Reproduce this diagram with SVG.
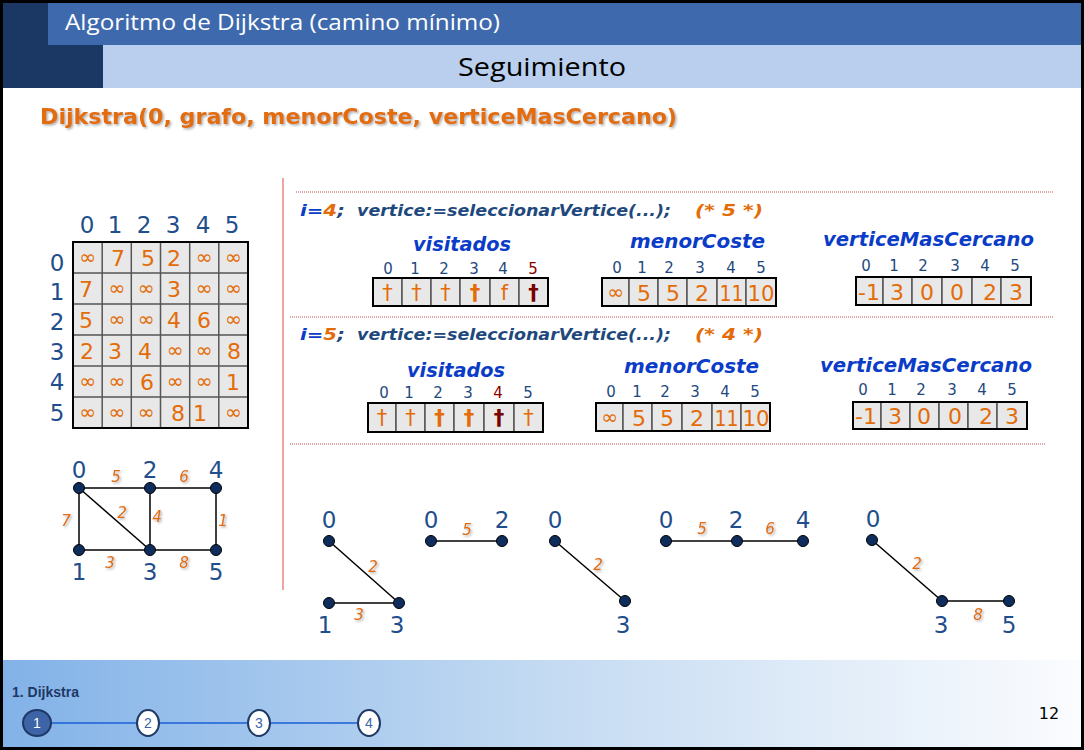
<svg xmlns="http://www.w3.org/2000/svg" width="1084" height="750" viewBox="0 0 1084 750">
<defs>
<style>
.sans{font-family:"Liberation Sans",Arial,sans-serif}
.idx{font-family:"DejaVu Sans",Verdana,sans-serif;font-size:15px;fill:#1f497d;text-anchor:middle}
.val{font-family:"DejaVu Sans",Verdana,sans-serif;font-size:22px;fill:#e36c09;text-anchor:middle}
.inf{font-family:"DejaVu Sans",Verdana,sans-serif;font-size:20px;fill:#e36c09;text-anchor:middle}
.dag{font-family:"DejaVu Sans",Verdana,sans-serif;font-size:21px;fill:#e36c09;text-anchor:middle}
.bold{font-weight:bold}
.red{fill:#7a0000}
.cell{fill:#e8e8e8;stroke:#555;stroke-width:1.5}
.frame{fill:none;stroke:#000;stroke-width:2}
.lbl{font-family:"DejaVu Sans",Verdana,sans-serif;font-size:20px;font-weight:bold;font-style:italic;fill:#0a3cc8;text-anchor:middle}
.code{font-family:"DejaVu Sans",Verdana,sans-serif;font-size:16px;font-weight:bold;font-style:italic}
.nl{font-family:"DejaVu Sans",Verdana,sans-serif;font-size:23px;fill:#1f4e8c;text-anchor:middle}
.w{font-family:"DejaVu Sans",Verdana,sans-serif;font-size:15px;font-style:italic;fill:#e36c09;text-anchor:middle}
.nd{fill:#0e2d5c;stroke:#000;stroke-width:1}
.ed{stroke:#000;stroke-width:1.5;fill:none}
.dot{stroke:#c0504d;stroke-width:1;stroke-dasharray:1 1;fill:none}
</style>
<linearGradient id="foot" x1="0" y1="0" x2="1" y2="0">
<stop offset="0" stop-color="#82b2e8"/>
<stop offset="0.5" stop-color="#c3daf2"/>
<stop offset="1" stop-color="#fbfcfe"/>
</linearGradient>
<filter id="shadow" x="-5%" y="-20%" width="110%" height="150%">
<feDropShadow dx="1.5" dy="1.5" stdDeviation="1" flood-color="#777" flood-opacity="0.6"/>
</filter>
</defs>

<!-- slide frame and header -->
<rect x="0" y="0" width="1084" height="750" fill="#000"/>
<rect x="3" y="3" width="1078" height="744" fill="#fff"/>
<rect x="3" y="3" width="100" height="85" fill="#1b3764"/>
<rect x="48" y="3" width="1033" height="42" fill="#3e6aad"/>
<rect x="103" y="45" width="978" height="43" fill="#b9cfed"/>
<text x="65" y="30" font-family="Open Sans, Liberation Sans, sans-serif" font-size="22" fill="#fff" textLength="435" lengthAdjust="spacingAndGlyphs">Algoritmo de Dijkstra (camino mínimo)</text>
<text x="458" y="76" font-family="Open Sans, Liberation Sans, sans-serif" font-size="25" fill="#000" textLength="168" lengthAdjust="spacingAndGlyphs">Seguimiento</text>
<text x="40" y="124" font-family="DejaVu Sans, Verdana, sans-serif" font-size="21" font-weight="bold" fill="#e36c09" filter="url(#shadow)" textLength="637" lengthAdjust="spacingAndGlyphs">Dijkstra(0, grafo, menorCoste, verticeMasCercano)</text>

<!-- separators -->
<line x1="283" y1="178" x2="283" y2="590" stroke="#e06666" stroke-width="1.2"/>
<line class="dot" x1="296" y1="192" x2="1053" y2="192"/>
<line class="dot" x1="290" y1="317" x2="1053" y2="317"/>
<line class="dot" x1="290" y1="444" x2="1045" y2="444"/>

<!-- adjacency matrix -->
<g id="matrix">
<g class="nl">
<text x="87" y="233">0</text><text x="115" y="233">1</text><text x="144" y="233">2</text><text x="173" y="233">3</text><text x="203" y="233">4</text><text x="232" y="233">5</text>
<text x="57" y="271">0</text><text x="57" y="300">1</text><text x="57" y="330">2</text><text x="57" y="360">3</text><text x="57" y="390">4</text><text x="57" y="421">5</text>
</g>
<rect x="73" y="242" width="175" height="186" fill="#e8e8e8"/>
<g stroke="#555" stroke-width="1.5">
<line x1="102.2" y1="242" x2="102.2" y2="428"/><line x1="131.3" y1="242" x2="131.3" y2="428"/><line x1="160.5" y1="242" x2="160.5" y2="428"/><line x1="189.7" y1="242" x2="189.7" y2="428"/><line x1="218.8" y1="242" x2="218.8" y2="428"/>
<line x1="73" y1="273" x2="248" y2="273"/><line x1="73" y1="304" x2="248" y2="304"/><line x1="73" y1="335" x2="248" y2="335"/><line x1="73" y1="366" x2="248" y2="366"/><line x1="73" y1="397" x2="248" y2="397"/>
</g>
<rect class="frame" x="73" y="242" width="175" height="186"/>
<g class="inf">
<text x="87.6" y="264">∞</text><text x="204" y="264">∞</text><text x="233.4" y="264">∞</text>
<text x="116.8" y="295">∞</text><text x="146" y="295">∞</text><text x="204" y="295">∞</text><text x="233.4" y="295">∞</text>
<text x="116.8" y="326">∞</text><text x="146" y="326">∞</text><text x="233.4" y="326">∞</text>
<text x="175" y="357">∞</text><text x="204" y="357">∞</text>
<text x="87.6" y="388">∞</text><text x="116.8" y="388">∞</text><text x="175" y="388">∞</text><text x="204" y="388">∞</text>
<text x="87.6" y="419">∞</text><text x="116.8" y="419">∞</text><text x="146" y="419">∞</text><text x="233.4" y="419">∞</text>
</g>
<g class="val">
<text x="118" y="266">7</text><text x="148" y="266">5</text><text x="174" y="266">2</text>
<text x="86" y="297">7</text><text x="174" y="297">3</text>
<text x="86" y="328">5</text><text x="174" y="328">4</text><text x="204" y="328">6</text>
<text x="87" y="359">2</text><text x="115" y="359">3</text><text x="145" y="359">4</text><text x="234" y="359">8</text>
<text x="147" y="390">6</text><text x="233" y="390">1</text>
<text x="178" y="421">8</text><text x="200" y="421">1</text>
</g>
</g>

<!-- full graph: edges and weights -->
<g id="connectors">
<line class="ed" x1="79" y1="488" x2="150" y2="488"/>
<line class="ed" x1="150" y1="488" x2="216" y2="488" stroke="#444"/>
<line class="ed" x1="79" y1="488" x2="79" y2="550"/>
<line class="ed" x1="79" y1="488" x2="150" y2="550"/>
<line class="ed" x1="150" y1="488" x2="150" y2="550"/>
<line class="ed" x1="216" y1="488" x2="216" y2="550"/>
<line class="ed" x1="79" y1="550" x2="150" y2="550"/>
<line class="ed" x1="150" y1="550" x2="216" y2="550"/>
<!-- partial trees -->
<line class="ed" x1="329" y1="541" x2="399" y2="603"/>
<line class="ed" x1="329" y1="603" x2="399" y2="603"/>
<line class="ed" x1="431" y1="541" x2="502" y2="541"/>
<line class="ed" x1="555" y1="541" x2="625" y2="601"/>
<line class="ed" x1="666" y1="541" x2="737" y2="541" stroke="#444"/>
<line class="ed" x1="737" y1="541" x2="803" y2="541"/>
<line class="ed" x1="872" y1="540" x2="942" y2="601"/>
<line class="ed" x1="942" y1="601" x2="1009" y2="601" stroke="#333"/>
<g class="w" filter="url(#shadow)">
<text x="116" y="482">5</text><text x="184" y="482">6</text><text x="66" y="526">7</text><text x="122" y="518">2</text><text x="157" y="522">4</text><text x="223" y="526">1</text><text x="110" y="568">3</text><text x="184" y="568">8</text>
<text x="373" y="572">2</text><text x="359" y="620">3</text>
<text x="467" y="535">5</text>
<text x="598" y="570">2</text>
<text x="702" y="534">5</text><text x="770" y="534">6</text>
<text x="917" y="569">2</text><text x="978" y="620">8</text>
</g>
</g>

<!-- full graph vertices -->
<g id="g-n0"><circle class="nd" cx="79" cy="488" r="5.5"/><text class="nl" x="79" y="478">0</text></g>
<g id="g-n2"><circle class="nd" cx="150" cy="488" r="5.5"/><text class="nl" x="150" y="478">2</text></g>
<g id="g-n4"><circle class="nd" cx="216" cy="488" r="5.5"/><text class="nl" x="216" y="478">4</text></g>
<g id="g-n1"><circle class="nd" cx="79" cy="550" r="5.5"/><text class="nl" x="79" y="580">1</text></g>
<g id="g-n3"><circle class="nd" cx="150" cy="550" r="5.5"/><text class="nl" x="150" y="580">3</text></g>
<g id="g-n5"><circle class="nd" cx="216" cy="550" r="5.5"/><text class="nl" x="216" y="580">5</text></g>

<!-- partial tree vertices -->
<g id="a-n0"><circle class="nd" cx="329" cy="541" r="5.5"/><text class="nl" x="329" y="528">0</text></g>
<g id="a-n1"><circle class="nd" cx="329" cy="603" r="5.5"/><text class="nl" x="325" y="633">1</text></g>
<g id="a-n3"><circle class="nd" cx="399" cy="603" r="5.5"/><text class="nl" x="397" y="633">3</text></g>
<g id="b-n0"><circle class="nd" cx="431" cy="541" r="5.5"/><text class="nl" x="431" y="528">0</text></g>
<g id="b-n2"><circle class="nd" cx="502" cy="541" r="5.5"/><text class="nl" x="502" y="528">2</text></g>
<g id="c-n0"><circle class="nd" cx="555" cy="541" r="5.5"/><text class="nl" x="555" y="528">0</text></g>
<g id="c-n3"><circle class="nd" cx="625" cy="601" r="5.5"/><text class="nl" x="623" y="633">3</text></g>
<g id="d-n0"><circle class="nd" cx="666" cy="541" r="5.5"/><text class="nl" x="666" y="528">0</text></g>
<g id="d-n2"><circle class="nd" cx="737" cy="541" r="5.5"/><text class="nl" x="736" y="528">2</text></g>
<g id="d-n4"><circle class="nd" cx="803" cy="541" r="5.5"/><text class="nl" x="803" y="528">4</text></g>
<g id="e-n0"><circle class="nd" cx="872" cy="540" r="5.5"/><text class="nl" x="873" y="527">0</text></g>
<g id="e-n3"><circle class="nd" cx="942" cy="601" r="5.5"/><text class="nl" x="941" y="633">3</text></g>
<g id="e-n5"><circle class="nd" cx="1009" cy="601" r="5.5"/><text class="nl" x="1009" y="633">5</text></g>

<!-- step i=4 -->
<g id="step4">
<text class="code" x="300" y="216" textLength="45" lengthAdjust="spacingAndGlyphs"><tspan fill="#0a3cc8">i=</tspan><tspan fill="#e36c09">4</tspan><tspan fill="#1f497d">;</tspan></text>
<text class="code" x="357" y="216" fill="#1f497d" textLength="314" lengthAdjust="spacingAndGlyphs">vertice:=seleccionarVertice(...);</text>
<text class="code" x="695" y="216" fill="#e36c09" textLength="68" lengthAdjust="spacingAndGlyphs">(* 5 *)</text>
</g>

<g id="visitados4">
<text class="lbl" x="462" y="251" textLength="98" lengthAdjust="spacingAndGlyphs">visitados</text>
<g class="idx"><text x="388" y="274">0</text><text x="415" y="274">1</text><text x="444" y="274">2</text><text x="474" y="274">3</text><text x="503" y="274">4</text><text x="533" y="274" style="fill:#8b0000">5</text></g>
<rect class="cell" x="373" y="278" width="29" height="28"/><rect class="cell" x="402" y="278" width="29" height="28"/><rect class="cell" x="431" y="278" width="29" height="28"/><rect class="cell" x="460" y="278" width="30" height="28"/><rect class="cell" x="490" y="278" width="29" height="28"/><rect class="cell" x="519" y="278" width="29" height="28"/>
<rect class="frame" x="373" y="278" width="175" height="28"/>
<g class="dag"><text x="387.5" y="300">†</text><text x="416.5" y="300">†</text><text x="445.5" y="300">†</text><text class="bold" x="475" y="300">†</text><text x="504.5" y="300">f</text><text class="bold red" x="533.5" y="300">†</text></g>
</g>

<g id="menorCoste4">
<text class="lbl" x="697.5" y="248" textLength="135" lengthAdjust="spacingAndGlyphs">menorCoste</text>
<g class="idx"><text x="617" y="273">0</text><text x="642" y="273">1</text><text x="669" y="273">2</text><text x="700" y="273">3</text><text x="731" y="273">4</text><text x="761" y="273">5</text></g>
<rect class="cell" x="602" y="278" width="27" height="28"/><rect class="cell" x="629" y="278" width="29" height="28"/><rect class="cell" x="658" y="278" width="29" height="28"/><rect class="cell" x="687" y="278" width="30" height="28"/><rect class="cell" x="717" y="278" width="29" height="28"/><rect class="cell" x="746" y="278" width="30" height="28"/>
<rect class="frame" x="602" y="278" width="174" height="28"/>
<text class="inf" x="615.5" y="299">∞</text>
<g class="val"><text x="644" y="301">5</text><text x="673" y="301">5</text><text x="702" y="301">2</text><text x="731.5" y="301" textLength="24" lengthAdjust="spacingAndGlyphs">11</text><text x="761" y="301" textLength="27" lengthAdjust="spacingAndGlyphs">10</text></g>
</g>

<g id="verticeMasCercano4">
<text class="lbl" x="928.5" y="246" textLength="211" lengthAdjust="spacingAndGlyphs">verticeMasCercano</text>
<g class="idx"><text x="866" y="271">0</text><text x="894" y="271">1</text><text x="923" y="271">2</text><text x="955" y="271">3</text><text x="985" y="271">4</text><text x="1015" y="271">5</text></g>
<rect class="cell" x="856" y="277" width="27" height="28"/><rect class="cell" x="883" y="277" width="29" height="28"/><rect class="cell" x="912" y="277" width="30" height="28"/><rect class="cell" x="942" y="277" width="30" height="28"/><rect class="cell" x="972" y="277" width="29" height="28"/><rect class="cell" x="1001" y="277" width="30" height="28"/>
<rect class="frame" x="856" y="277" width="175" height="28"/>
<g class="val"><text x="869" y="300" textLength="22" lengthAdjust="spacingAndGlyphs">-1</text><text x="897" y="300">3</text><text x="927" y="300">0</text><text x="957" y="300">0</text><text x="990" y="300">2</text><text x="1016" y="300">3</text></g>
</g>

<!-- step i=5 -->
<g id="step5">
<text class="code" x="300" y="340" textLength="45" lengthAdjust="spacingAndGlyphs"><tspan fill="#0a3cc8">i=</tspan><tspan fill="#e36c09">5</tspan><tspan fill="#1f497d">;</tspan></text>
<text class="code" x="357" y="340" fill="#1f497d" textLength="314" lengthAdjust="spacingAndGlyphs">vertice:=seleccionarVertice(...);</text>
<text class="code" x="695" y="340" fill="#e36c09" textLength="68" lengthAdjust="spacingAndGlyphs">(* 4 *)</text>
</g>

<g id="visitados5">
<text class="lbl" x="456" y="377" textLength="98" lengthAdjust="spacingAndGlyphs">visitados</text>
<g class="idx"><text x="384" y="398">0</text><text x="409" y="398">1</text><text x="438" y="398">2</text><text x="468" y="398">3</text><text x="498" y="398" style="fill:#8b0000">4</text><text x="528" y="398">5</text></g>
<rect class="cell" x="368" y="403" width="28" height="29"/><rect class="cell" x="396" y="403" width="29" height="29"/><rect class="cell" x="425" y="403" width="29" height="29"/><rect class="cell" x="454" y="403" width="30" height="29"/><rect class="cell" x="484" y="403" width="30" height="29"/><rect class="cell" x="514" y="403" width="29" height="29"/>
<rect class="frame" x="368" y="403" width="175" height="29"/>
<g class="dag"><text x="382" y="425">†</text><text x="410.5" y="425">†</text><text class="bold" x="439.5" y="425">†</text><text class="bold" x="469" y="425">†</text><text class="bold red" x="499" y="425">†</text><text x="528.5" y="425">†</text></g>
</g>

<g id="menorCoste5">
<text class="lbl" x="691.5" y="373" textLength="135" lengthAdjust="spacingAndGlyphs">menorCoste</text>
<g class="idx"><text x="611" y="397">0</text><text x="637" y="397">1</text><text x="665" y="397">2</text><text x="695" y="397">3</text><text x="725" y="397">4</text><text x="755" y="397">5</text></g>
<rect class="cell" x="596" y="403" width="27" height="28"/><rect class="cell" x="623" y="403" width="29" height="28"/><rect class="cell" x="652" y="403" width="30" height="28"/><rect class="cell" x="682" y="403" width="30" height="28"/><rect class="cell" x="712" y="403" width="29" height="28"/><rect class="cell" x="741" y="403" width="29" height="28"/>
<rect class="frame" x="596" y="403" width="174" height="28"/>
<text class="inf" x="609.5" y="424">∞</text>
<g class="val"><text x="639" y="426">5</text><text x="667" y="426">5</text><text x="697" y="426">2</text><text x="726.5" y="426" textLength="24" lengthAdjust="spacingAndGlyphs">11</text><text x="756" y="426" textLength="27" lengthAdjust="spacingAndGlyphs">10</text></g>
</g>

<g id="verticeMasCercano5">
<text class="lbl" x="926" y="372" textLength="212" lengthAdjust="spacingAndGlyphs">verticeMasCercano</text>
<g class="idx"><text x="863" y="395">0</text><text x="892" y="395">1</text><text x="921" y="395">2</text><text x="952" y="395">3</text><text x="982" y="395">4</text><text x="1012" y="395">5</text></g>
<rect class="cell" x="853" y="402" width="28" height="27"/><rect class="cell" x="881" y="402" width="29" height="27"/><rect class="cell" x="910" y="402" width="29" height="27"/><rect class="cell" x="939" y="402" width="29" height="27"/><rect class="cell" x="968" y="402" width="29" height="27"/><rect class="cell" x="997" y="402" width="30" height="27"/>
<rect class="frame" x="853" y="402" width="174" height="27"/>
<g class="val"><text x="866" y="424" textLength="22" lengthAdjust="spacingAndGlyphs">-1</text><text x="895" y="424">3</text><text x="924" y="424">0</text><text x="955" y="424">0</text><text x="986" y="424">2</text><text x="1012" y="424">3</text></g>
</g>

<!-- footer navigation -->
<g id="footer">
<rect x="3" y="660" width="1078" height="87" fill="url(#foot)"/>
<text class="sans" x="12" y="697" font-size="14" font-weight="bold" fill="#1f3864">1. Dijkstra</text>
<g stroke="#1a5fd6" stroke-width="1.5">
<line x1="51" y1="723" x2="137" y2="723"/><line x1="159" y1="723" x2="248" y2="723"/><line x1="270" y1="723" x2="358" y2="723"/>
</g>
<g id="step-1"><ellipse cx="37" cy="723" rx="14" ry="13" fill="#3d64a6" stroke="#1f3864" stroke-width="2"/><text class="sans" x="37" y="728" font-size="14" fill="#fff" text-anchor="middle">1</text></g>
<g id="step-2"><ellipse cx="148" cy="723" rx="11" ry="13" fill="#fff" stroke="#1f3864" stroke-width="2"/><text class="sans" x="148" y="728" font-size="14" fill="#3d64a6" text-anchor="middle">2</text></g>
<g id="step-3"><ellipse cx="259" cy="723" rx="11" ry="13" fill="#fff" stroke="#1f3864" stroke-width="2"/><text class="sans" x="259" y="728" font-size="14" fill="#3d64a6" text-anchor="middle">3</text></g>
<g id="step-4"><ellipse cx="369" cy="723" rx="11" ry="13" fill="#fff" stroke="#1f3864" stroke-width="2"/><text class="sans" x="369" y="728" font-size="14" fill="#3d64a6" text-anchor="middle">4</text></g>
<text x="1049" y="719" font-family="DejaVu Sans, Verdana, sans-serif" font-size="16" fill="#000" text-anchor="middle">12</text>
</g>
</svg>
